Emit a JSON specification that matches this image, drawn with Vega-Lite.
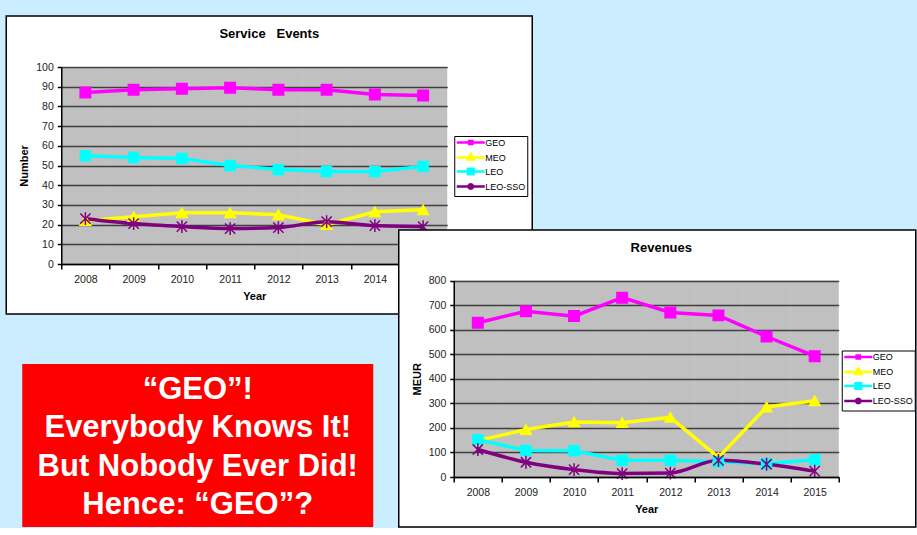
{
  "$schema": "https://vega.github.io/schema/vega-lite/v6.json",
  "background": "#ccecff",
  "padding": {"left": 5.25, "top": 15, "right": 0, "bottom": 0},
  "config": {
    "font": "Liberation Sans",
    "axis": {"labelFont": "Liberation Sans", "titleFont": "Liberation Sans"},
    "legend": {"labelFont": "Liberation Sans"}
  },
  "datasets": {
    "events": [
      {"series": "GEO", "year": 2008, "value": 87},
      {"series": "GEO", "year": 2009, "value": 88.5},
      {"series": "GEO", "year": 2010, "value": 89},
      {"series": "GEO", "year": 2011, "value": 89.5},
      {"series": "GEO", "year": 2012, "value": 88.5},
      {"series": "GEO", "year": 2013, "value": 88.5},
      {"series": "GEO", "year": 2014, "value": 86},
      {"series": "GEO", "year": 2015, "value": 85.5},
      {"series": "MEO", "year": 2008, "value": 22},
      {"series": "MEO", "year": 2009, "value": 24},
      {"series": "MEO", "year": 2010, "value": 26},
      {"series": "MEO", "year": 2011, "value": 26},
      {"series": "MEO", "year": 2012, "value": 25},
      {"series": "MEO", "year": 2013, "value": 20},
      {"series": "MEO", "year": 2014, "value": 26.5},
      {"series": "MEO", "year": 2015, "value": 27.5},
      {"series": "LEO", "year": 2008, "value": 55},
      {"series": "LEO", "year": 2009, "value": 54},
      {"series": "LEO", "year": 2010, "value": 53.5},
      {"series": "LEO", "year": 2011, "value": 50},
      {"series": "LEO", "year": 2012, "value": 48},
      {"series": "LEO", "year": 2013, "value": 47},
      {"series": "LEO", "year": 2014, "value": 47},
      {"series": "LEO", "year": 2015, "value": 49.5},
      {"series": "LEO-SSO", "year": 2008, "value": 23},
      {"series": "LEO-SSO", "year": 2009, "value": 20.5},
      {"series": "LEO-SSO", "year": 2010, "value": 19},
      {"series": "LEO-SSO", "year": 2011, "value": 18},
      {"series": "LEO-SSO", "year": 2012, "value": 18.5},
      {"series": "LEO-SSO", "year": 2013, "value": 21.5},
      {"series": "LEO-SSO", "year": 2014, "value": 19.5},
      {"series": "LEO-SSO", "year": 2015, "value": 19}
    ],
    "revenues": [
      {"series": "GEO", "year": 2008, "value": 628},
      {"series": "GEO", "year": 2009, "value": 675},
      {"series": "GEO", "year": 2010, "value": 655},
      {"series": "GEO", "year": 2011, "value": 730},
      {"series": "GEO", "year": 2012, "value": 670},
      {"series": "GEO", "year": 2013, "value": 658},
      {"series": "GEO", "year": 2014, "value": 572},
      {"series": "GEO", "year": 2015, "value": 492},
      {"series": "MEO", "year": 2008, "value": 148},
      {"series": "MEO", "year": 2009, "value": 193},
      {"series": "MEO", "year": 2010, "value": 224},
      {"series": "MEO", "year": 2011, "value": 221},
      {"series": "MEO", "year": 2012, "value": 243},
      {"series": "MEO", "year": 2013, "value": 80},
      {"series": "MEO", "year": 2014, "value": 285},
      {"series": "MEO", "year": 2015, "value": 310},
      {"series": "LEO", "year": 2008, "value": 152},
      {"series": "LEO", "year": 2009, "value": 108},
      {"series": "LEO", "year": 2010, "value": 107},
      {"series": "LEO", "year": 2011, "value": 68},
      {"series": "LEO", "year": 2012, "value": 68},
      {"series": "LEO", "year": 2013, "value": 62},
      {"series": "LEO", "year": 2014, "value": 54},
      {"series": "LEO", "year": 2015, "value": 70},
      {"series": "LEO-SSO", "year": 2008, "value": 112},
      {"series": "LEO-SSO", "year": 2009, "value": 60},
      {"series": "LEO-SSO", "year": 2010, "value": 30},
      {"series": "LEO-SSO", "year": 2011, "value": 14},
      {"series": "LEO-SSO", "year": 2012, "value": 16},
      {"series": "LEO-SSO", "year": 2013, "value": 68},
      {"series": "LEO-SSO", "year": 2014, "value": 52},
      {"series": "LEO-SSO", "year": 2015, "value": 24}
    ],
    "note": [
      {"line": 1, "text": "“GEO”!"},
      {"line": 2, "text": "Everybody Knows It!"},
      {"line": 3, "text": "But Nobody Ever Did!"},
      {"line": 4, "text": "Hence: “GEO”?"}
    ]
  },
  "columns": 1,
  "align": "none",
  "spacing": -86,
  "resolve": {
    "scale": {"color": "independent", "stroke": "independent", "shape": "independent", "size": "independent"},
    "legend": {"color": "independent"}
  },
  "concat": [
    {
      "width": 526,
      "height": 298,
      "view": {"fill": "white", "stroke": "black", "strokeWidth": 1.5},
      "title": {"text": "Service\u00a0\u00a0\u00a0Events", "font": "Liberation Sans", "fontSize": 13, "fontWeight": "bold", "color": "black", "anchor": "middle", "frame": "group", "offset": -31, "baseline": "middle"},
      "data": {"name": "events"},
      "encoding": {
        "x": {
          "field": "year", "type": "ordinal",
          "scale": {"type": "band", "range": [55, 441], "paddingInner": 0, "paddingOuter": 0},
          "axis": {"orient": "bottom", "offset": -50, "title": "Year", "titleFontSize": 11, "titleFontWeight": "bold", "titleColor": "black", "titlePadding": 6, "labelFontSize": 10.5, "labelColor": "#222", "labelAngle": 0, "labelPadding": 5, "tickBand": "extent", "tickSize": 5, "tickColor": "black", "tickWidth": 1.5, "domainColor": "black", "domainWidth": 1.5, "grid": false, "labelOverlap": false}
        },
        "y": {
          "field": "value", "type": "quantitative",
          "scale": {"domain": [0, 100], "range": [248, 51], "nice": false},
          "axis": {"orient": "left", "offset": -55, "title": "Number", "titleFontSize": 11, "titleFontWeight": "bold", "titleColor": "black", "titlePadding": 6, "values": [0, 10, 20, 30, 40, 50, 60, 70, 80, 90, 100], "labelFontSize": 10.5, "labelColor": "#222", "labelPadding": 4, "tickSize": 4, "tickColor": "black", "tickWidth": 1.5, "domainColor": "black", "domainWidth": 1.5, "grid": true, "gridColor": "#555", "gridWidth": 1.5}
        }
      },
      "layer": [
        {
          "transform": [{"filter": "datum.series === 'GEO'"}],
          "mark": {"type": "rect", "fill": "#000000", "fillOpacity": 0.247},
          "encoding": {"y": {"datum": 0, "type": "quantitative"}, "y2": {"datum": 100}}
        },
        {
          "transform": [{"filter": "datum.series !== 'LEO-SSO'"}],
          "mark": {"type": "line", "strokeWidth": 3.5},
          "encoding": {
            "color": {
              "field": "series", "type": "nominal",
              "scale": {"domain": ["GEO", "MEO", "LEO", "LEO-SSO"], "range": ["#ff00ff", "#ffff00", "#00ffff", "#800080"]},
              "legend": {
                "orient": "none", "legendX": 448, "legendY": 120, "title": null,
                "fillColor": "white", "strokeColor": "black", "padding": 1, "rowPadding": -2,
                "symbolSize": 64, "symbolStrokeWidth": 2.5, "labelFontSize": 9, "labelColor": "black", "labelOffset": 19,
                "encode": {"symbols": {"update": {
                  "shape": {"signal": "datum.value === 'GEO' ? 'M-1,0H6M2.1,-0.4H2.9V0.4H2.1Z' : datum.value === 'MEO' ? 'M-1,0H6M2.5,-0.9L3.3,0.5H1.7Z' : datum.value === 'LEO' ? 'M-1,0H6M1.8,-0.7H3.2V0.7H1.8Z' : 'M-1,0H6M1.9,-0.6L3.1,0.6M1.9,0.6L3.1,-0.6M2.5,-0.8V0.8'"},
                  "fill": {"signal": "datum.value === 'GEO' ? '#ff00ff' : datum.value === 'MEO' ? '#ffff00' : datum.value === 'LEO' ? '#00ffff' : '#800080'"},
                  "stroke": {"signal": "datum.value === 'GEO' ? '#ff00ff' : datum.value === 'MEO' ? '#ffff00' : datum.value === 'LEO' ? '#00ffff' : '#800080'"},
                  "strokeWidth": {"value": 2.5},
                  "size": {"value": 64},
                  "opacity": {"value": 1}
                }}}
              }
            }
          }
        },
        {
          "transform": [{"filter": "datum.series === 'LEO-SSO'"}],
          "mark": {"type": "line", "strokeWidth": 3.5, "interpolate": "monotone"},
          "encoding": {
            "color": {"field": "series", "type": "nominal", "scale": {"domain": ["GEO", "MEO", "LEO", "LEO-SSO"], "range": ["#ff00ff", "#ffff00", "#00ffff", "#800080"]}}
          }
        },
        {
          "mark": {"type": "point", "filled": true, "strokeWidth": 1.5, "opacity": 1},
          "encoding": {
            "color": {"field": "series", "type": "nominal", "scale": {"domain": ["GEO", "MEO", "LEO", "LEO-SSO"], "range": ["#ff00ff", "#ffff00", "#00ffff", "#800080"]}},
            "stroke": {"field": "series", "type": "nominal", "scale": {"domain": ["LEO", "LEO-SSO", "GEO", "MEO"], "range": ["#00ffff", "#800080", "#ff00ff", "#ffff00"]}, "legend": null},
            "shape": {"field": "series", "type": "nominal", "scale": {"domain": ["LEO-SSO", "LEO", "MEO", "GEO"], "range": ["M-1,-1L1,1M-1,1L1,-1M0,-1.25V1.25", "square", "triangle-up", "square"]}, "legend": null},
            "size": {"field": "series", "type": "nominal", "scale": {"domain": ["MEO", "GEO", "LEO-SSO", "LEO"], "range": [115, 100, 110, 144]}, "legend": null}
          }
        }
      ]
    },
    {
      "columns": 2,
      "align": "none",
      "spacing": 24.5,
      "resolve": {
        "scale": {"color": "independent", "stroke": "independent", "shape": "independent", "size": "independent"},
        "legend": {"color": "independent"}
      },
      "concat": [
        {
          "columns": 1,
          "align": "none",
          "spacing": 0,
          "concat": [
            {"width": 1, "height": 134, "data": {"values": []}, "mark": "point", "encoding": {}, "view": {"stroke": null, "fill": null}},
            {
              "spacing": 0,
              "hconcat": [
                {"width": 16, "height": 1, "data": {"values": []}, "mark": "point", "encoding": {}, "view": {"stroke": null, "fill": null}},
                {
                  "width": 351,
                  "height": 163,
                  "view": {"fill": "#ff0000", "stroke": null},
                  "data": {"name": "note"},
                  "mark": {"type": "text", "font": "Liberation Sans", "fontSize": 31, "fontWeight": "bold", "color": "#ffffff", "baseline": "middle", "align": "center", "dy": 2},
                  "encoding": {
                    "y": {"field": "line", "type": "ordinal", "scale": {"type": "point", "padding": 0.634}, "axis": null},
                    "text": {"field": "text"}
                  }
                }
              ]
            }
          ]
        },
        {
          "width": 517,
          "height": 297,
          "view": {"fill": "white", "stroke": "black", "strokeWidth": 1.5},
          "title": {"text": "Revenues", "font": "Liberation Sans", "fontSize": 13, "fontWeight": "bold", "color": "black", "anchor": "middle", "frame": "group", "offset": -30.5, "baseline": "middle", "dx": 4},
          "data": {"name": "revenues"},
          "encoding": {
            "x": {
              "field": "year", "type": "ordinal",
              "scale": {"type": "band", "range": [55, 440], "paddingInner": 0, "paddingOuter": 0},
              "axis": {"orient": "bottom", "offset": -50, "title": "Year", "titleFontSize": 11, "titleFontWeight": "bold", "titleColor": "black", "titlePadding": 6, "labelFontSize": 10.5, "labelColor": "#222", "labelAngle": 0, "labelPadding": 5, "tickBand": "extent", "tickSize": 5, "tickColor": "black", "tickWidth": 1.5, "domainColor": "black", "domainWidth": 1.5, "grid": false, "labelOverlap": false}
            },
            "y": {
              "field": "value", "type": "quantitative",
              "scale": {"domain": [0, 800], "range": [247, 50.5], "nice": false},
              "axis": {"orient": "left", "offset": -55, "title": "MEUR", "titleFontSize": 11, "titleFontWeight": "bold", "titleColor": "black", "titlePadding": 6, "values": [0, 100, 200, 300, 400, 500, 600, 700, 800], "labelFontSize": 10.5, "labelColor": "#222", "labelPadding": 4, "tickSize": 4, "tickColor": "black", "tickWidth": 1.5, "domainColor": "black", "domainWidth": 1.5, "grid": true, "gridColor": "#555", "gridWidth": 1.5}
            }
          },
          "layer": [
            {
              "transform": [{"filter": "datum.series === 'GEO'"}],
              "mark": {"type": "rect", "fill": "#000000", "fillOpacity": 0.247},
              "encoding": {"y": {"datum": 0, "type": "quantitative"}, "y2": {"datum": 800}}
            },
            {
              "transform": [{"filter": "datum.series !== 'LEO-SSO'"}],
              "mark": {"type": "line", "strokeWidth": 3.5},
              "encoding": {
                "color": {
                  "field": "series", "type": "nominal",
                  "scale": {"domain": ["GEO", "MEO", "LEO", "LEO-SSO"], "range": ["#ff00ff", "#ffff00", "#00ffff", "#800080"]},
                  "legend": {
                    "orient": "none", "legendX": 443, "legendY": 120.5, "title": null,
                    "fillColor": "white", "strokeColor": "black", "padding": 1, "rowPadding": -2,
                    "symbolSize": 64, "symbolStrokeWidth": 2.5, "labelFontSize": 9, "labelColor": "black", "labelOffset": 19,
                    "encode": {"symbols": {"update": {
                      "shape": {"signal": "datum.value === 'GEO' ? 'M-1,0H6M2.1,-0.4H2.9V0.4H2.1Z' : datum.value === 'MEO' ? 'M-1,0H6M2.5,-0.9L3.3,0.5H1.7Z' : datum.value === 'LEO' ? 'M-1,0H6M1.8,-0.7H3.2V0.7H1.8Z' : 'M-1,0H6M1.9,-0.6L3.1,0.6M1.9,0.6L3.1,-0.6M2.5,-0.8V0.8'"},
                      "fill": {"signal": "datum.value === 'GEO' ? '#ff00ff' : datum.value === 'MEO' ? '#ffff00' : datum.value === 'LEO' ? '#00ffff' : '#800080'"},
                      "stroke": {"signal": "datum.value === 'GEO' ? '#ff00ff' : datum.value === 'MEO' ? '#ffff00' : datum.value === 'LEO' ? '#00ffff' : '#800080'"},
                      "strokeWidth": {"value": 2.5},
                      "size": {"value": 64},
                      "opacity": {"value": 1}
                    }}}
                  }
                }
              }
            },
            {
              "transform": [{"filter": "datum.series === 'LEO-SSO'"}],
              "mark": {"type": "line", "strokeWidth": 3.5, "interpolate": "monotone"},
              "encoding": {
                "color": {"field": "series", "type": "nominal", "scale": {"domain": ["GEO", "MEO", "LEO", "LEO-SSO"], "range": ["#ff00ff", "#ffff00", "#00ffff", "#800080"]}}
              }
            },
            {
              "mark": {"type": "point", "filled": true, "strokeWidth": 1.5, "opacity": 1},
              "encoding": {
                "color": {"field": "series", "type": "nominal", "scale": {"domain": ["GEO", "MEO", "LEO", "LEO-SSO"], "range": ["#ff00ff", "#ffff00", "#00ffff", "#800080"]}},
                "stroke": {"field": "series", "type": "nominal", "scale": {"domain": ["LEO", "LEO-SSO", "GEO", "MEO"], "range": ["#00ffff", "#800080", "#ff00ff", "#ffff00"]}, "legend": null},
                "shape": {"field": "series", "type": "nominal", "scale": {"domain": ["LEO-SSO", "LEO", "MEO", "GEO"], "range": ["M-1,-1L1,1M-1,1L1,-1M0,-1.25V1.25", "square", "triangle-up", "square"]}, "legend": null},
                "size": {"field": "series", "type": "nominal", "scale": {"domain": ["MEO", "GEO", "LEO-SSO", "LEO"], "range": [115, 100, 110, 144]}, "legend": null}
              }
            }
          ]
        }
      ]
    }
  ]
}
